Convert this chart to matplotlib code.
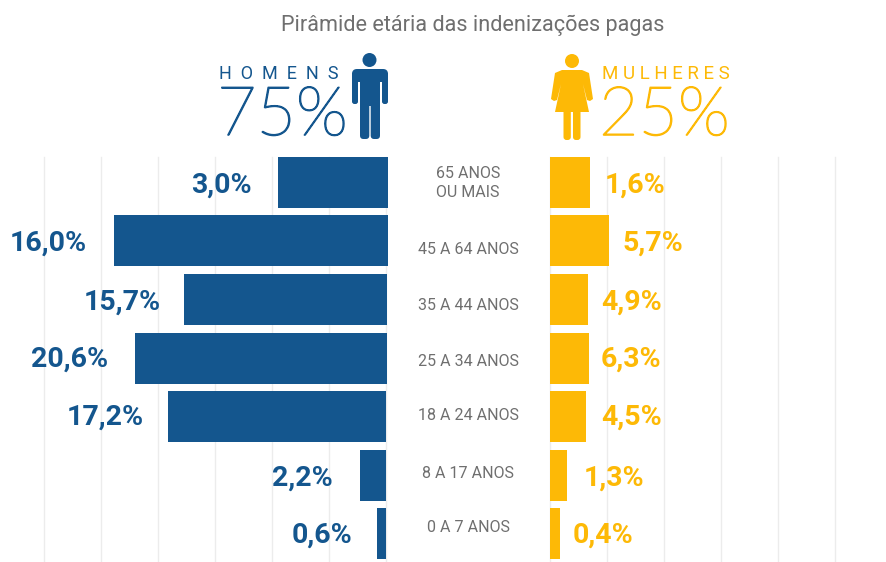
import matplotlib
matplotlib.use("Agg")
import matplotlib.pyplot as plt
import matplotlib.patheffects as pe
from matplotlib.patches import Circle, FancyBboxPatch, Polygon

W, H = 887, 562

age_labels = ["65 ANOS\nOU MAIS", "45 A 64 ANOS", "35 A 44 ANOS", "25 A 34 ANOS", "18 A 24 ANOS", "8 A 17 ANOS", "0 A 7 ANOS"]
men_text = ["3,0%", "16,0%", "15,7%", "20,6%", "17,2%", "2,2%", "0,6%"]
women_text = ["1,6%", "5,7%", "4,9%", "6,3%", "4,5%", "1,3%", "0,4%"]

# bar lengths as drawn in the picture, in grid steps (they do not follow the labels)
men_len = [1.93, 4.81, 3.56, 4.42, 3.82, 0.46, 0.16]
men_start = [-0.04, -0.04, -0.02, -0.02, 0.0, 0.0, 0.0]
women_len = [0.70, 1.04, 0.67, 0.68, 0.63, 0.30, 0.18]
row_top = [157, 215, 274, 333, 391, 450, 508]

BLUE = "#14568e"
YELLOW = "#fdb906"
GREY = "#6f6f6f"
GRID = "#ececec"

STEP = 57.0
fig = plt.figure(figsize=(W / 100, H / 100), dpi=100)
bg = fig.add_axes([0, 0, 1, 1])
bg.set_xlim(0, W)
bg.set_ylim(H, 0)
bg.axis("off")

# gridlines
for i in range(7):
    bg.plot([386 - i * STEP] * 2, [157, 561], color=GRID, lw=1, zorder=1)
for i in range(6):
    bg.plot([550 + i * STEP] * 2, [157, 561], color=GRID, lw=1, zorder=1)

# bars
for i, top in enumerate(row_top):
    start = 386 - men_start[i] * STEP
    bg.barh(top + 25.5, men_len[i] * STEP, left=start - men_len[i] * STEP, height=51, color=BLUE, zorder=2)
    bg.barh(top + 25.5, women_len[i] * STEP, left=550, height=51, color=YELLOW, zorder=2)

men_text_x = [252, 87, 161, 108, 144, 333, 352]
women_text_x = [605, 623, 601, 601, 601, 584, 573]
text_y = [185, 243, 302, 359, 417, 478, 535]
age_y = [183, 250, 305, 361, 416, 473, 528]
for i in range(7):
    bg.text(men_text_x[i], text_y[i], men_text[i], color=BLUE, fontsize=20.5, fontweight="bold", family="Roboto", ha="right", va="center", zorder=3)
    bg.text(women_text_x[i], text_y[i], women_text[i], color=YELLOW, fontsize=20.5, fontweight="bold", family="Roboto", ha="left", va="center", zorder=3)
    bg.text(468, age_y[i], age_labels[i], color=GREY, fontsize=11.5, family="Roboto", ha="center", va="center", linespacing=1.3, zorder=3)

bg.text(472.5, 25, "Pirâmide etária das indenizações pagas", color=GREY, fontsize=15.6, family="Roboto", ha="center", va="center")

bg.text(219, 79, "H  O  M  E  N  S", color=BLUE, fontsize=13, family="Roboto", ha="left", va="baseline")
big = bg.text(217, 135, "75%", color=BLUE, fontsize=49, fontweight="light", family="Lato", ha="left", va="baseline")
big.set_path_effects([pe.withStroke(linewidth=1.1, foreground=BLUE)])
bg.text(602, 79, "M U L H E R E S", color=YELLOW, fontsize=13.5, family="Roboto", ha="left", va="baseline")
big = bg.text(599, 135, "25%", color=YELLOW, fontsize=49, fontweight="light", family="Lato", ha="left", va="baseline")
big.set_path_effects([pe.withStroke(linewidth=1.1, foreground=YELLOW)])


def rect(x0, y0, x1, y1, color, r=2.0):
    bg.add_patch(FancyBboxPatch((x0 + r, y0 + r), x1 - x0 - 2 * r, y1 - y0 - 2 * r,
                                boxstyle=f"round,pad={r},rounding_size={r}", fc=color, ec="none", zorder=3))


# man icon
bg.add_patch(Circle((369.5, 60), 7, fc=BLUE, ec="none", zorder=3))
rect(352, 69, 388, 82, BLUE, 5)
rect(352, 72, 358, 104, BLUE, 2.5)
rect(382, 72, 388, 104, BLUE, 2.5)
rect(360, 70, 380, 106, BLUE, 1)
rect(360, 100, 369.3, 139, BLUE, 3.5)
rect(370.7, 100, 380, 139, BLUE, 3.5)

# woman icon
bg.add_patch(Circle((572, 61), 7, fc=YELLOW, ec="none", zorder=3))
bg.add_patch(Polygon([[562, 70], [582, 70], [589, 73], [593, 99], [590, 101], [587, 100], [583, 84],
                      [589, 112], [555, 112], [561, 84], [557, 100], [554, 101], [551, 99], [555, 73]],
                     fc=YELLOW, ec="none", zorder=3))
rect(563.5, 108, 570.8, 140, YELLOW, 3)
rect(573, 108, 580.5, 140, YELLOW, 3)
fig.savefig("out.png", dpi=100)
